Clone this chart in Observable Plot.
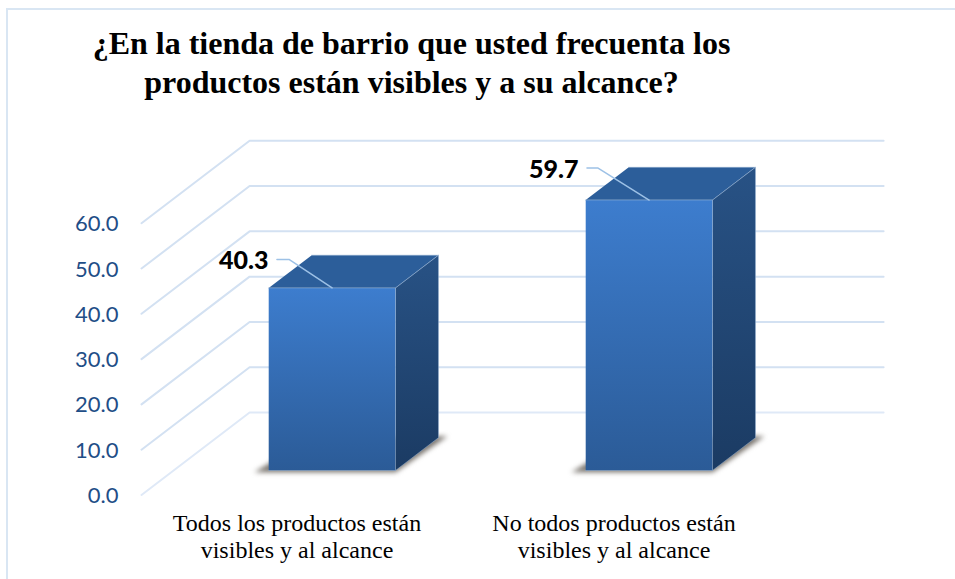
<!DOCTYPE html>
<html lang="es">
<head>
<meta charset="utf-8">
<script src="https://cdn.jsdelivr.net/npm/d3@7"></script>
<script src="https://cdn.jsdelivr.net/npm/@observablehq/plot@0.6"></script>
<style>
  html, body { margin: 0; padding: 0; background: #fff; overflow: hidden; }
  #frame { position: relative; width: 955px; height: 579px; overflow: hidden; }
  #frame::before {
    content: ""; position: absolute; left: 6px; top: 8px; width: 960px; height: 600px;
    border: 2px solid #d9e6f3; box-sizing: border-box;
  }
  h1 {
    position: absolute; left: 0; top: 24px; width: 823px; margin: 0; text-align: center;
    font: bold 32px/39px "Liberation Serif", serif; color: #000; white-space: nowrap;
  }
  #chart { position: absolute; left: 0; top: 0; }
  #chart svg { background: transparent; display: block; }
</style>
</head>
<body>
<div id="frame">
  <h1 id="title"></h1>
  <div id="chart"></div>
</div>
<script>
const titleLines = [
  "¿En la tienda de barrio que usted frecuenta los",
  "productos están visibles y a su alcance?"
];
const categories = [
  "Todos los productos están\nvisibles y al alcance",
  "No todos productos están\nvisibles y al alcance"
];
const values = [40.3, 59.7];
const yTicks = [0, 10, 20, 30, 40, 50, 60];

// Leader line shape for each value label, in data units.
const leaderRise = [6.3, 7.06];
const leaderRun = [0.136, 0.161];
const leaderStub = [0.038, 0.035];

// Oblique projection: depth 0..1 runs from the front of the floor to the back wall.
const depthX = 0.341;
const depthY = 18.2;
const project = (x, y, d) => ({x: x + d * depthX, y: y + d * depthY});

// Bars sit between these depths and are centred on their category slot.
const barFront = 0.297;
const barBack = 0.695;
const barWidth = 0.4;

const gridRows = yTicks.flatMap((v) => [
  {...project(0, v, 0), v},
  {...project(0, v, 1), v},
  {...project(2, v, 1), v}
]);

const barEdges = values.map((v, i) => ({i, v, x0: i + 0.5 - barWidth / 2, x1: i + 0.5 + barWidth / 2}));

const face = (corners) => barEdges.flatMap((b) => corners(b).map((p) => ({...project(...p), i: b.i})));
const frontFace = face((b) => [[b.x0, 0, barFront], [b.x1, 0, barFront], [b.x1, b.v, barFront], [b.x0, b.v, barFront]]);
const sideFace = face((b) => [[b.x1, 0, barFront], [b.x1, 0, barBack], [b.x1, b.v, barBack], [b.x1, b.v, barFront]]);
const topFace = face((b) => [[b.x0, b.v, barFront], [b.x1, b.v, barFront], [b.x1, b.v, barBack], [b.x0, b.v, barBack]]);
const shadow = face((b) => [
  [b.x0 - 0.045, -0.4, barFront],
  [b.x1, -0.4, barFront],
  [b.x1 + 0.018, -0.2, barBack + 0.03],
  [b.x0, 0, barBack]
]);

// Leader from each value label down to the middle of the bar's front top edge.
const leaders = barEdges.flatMap((b) => {
  const end = project(b.i + 0.5, b.v, barFront);
  const run = leaderRun[b.i], stub = leaderStub[b.i], rise = leaderRise[b.i];
  return [
    {x: end.x - run - stub, y: end.y + rise, i: b.i},
    {x: end.x - run, y: end.y + rise, i: b.i},
    {...end, i: b.i}
  ];
});
const valueLabels = barEdges.map((b) => {
  const end = project(b.i + 0.5, b.v, barFront);
  return {x: end.x - leaderRun[b.i] - leaderStub[b.i], y: end.y + leaderRise[b.i], text: b.v.toFixed(1)};
});

const gradient = (id, top, bottom) => () => {
  const defs = d3.create("svg:defs");
  const g = defs.append("linearGradient").attr("id", id)
    .attr("x1", 0).attr("y1", 0).attr("x2", 0).attr("y2", 1);
  g.append("stop").attr("offset", "0%").attr("stop-color", top);
  g.append("stop").attr("offset", "100%").attr("stop-color", bottom);
  return defs.node();
};

const edge = {stroke: "#9db8d8", strokeWidth: 0.8, strokeOpacity: 0.6};

const chart = Plot.plot({
  width: 955,
  height: 579,
  margin: 0,
  x: {domain: [0, 2], range: [141, 775], axis: null},
  y: {domain: [0, 60], range: [494.5, 222.7], axis: null},
  marks: [
    gradient("front-fill", "#3d7dce", "#2b5b97"),
    gradient("side-fill", "#285285", "#1b3b63"),
    Plot.line(gridRows, {x: "x", y: "y", z: "v", stroke: (d) => d.v === 0 ? "#dfe9f7" : "#d3e1f2", strokeWidth: 2, curve: "linear"}),
    Plot.line(shadow, {x: "x", y: "y", z: "i", fill: "#7a756f", stroke: "none", imageFilter: "blur(2.5px)"}),
    Plot.line(topFace, {x: "x", y: "y", z: "i", fill: "#2c5e9a", ...edge}),
    Plot.line(sideFace, {x: "x", y: "y", z: "i", fill: "url(#side-fill)", ...edge}),
    Plot.line(frontFace, {x: "x", y: "y", z: "i", fill: "url(#front-fill)", ...edge}),
    Plot.line(leaders, {x: "x", y: "y", z: "i", stroke: "#9dc1e6", strokeWidth: 1.5}),
    Plot.text(valueLabels, {
      x: "x", y: "y", text: "text", textAnchor: "end", dx: -8.5, dy: 2,
      fontFamily: "Lato", fontWeight: 900, fontSize: 25, fill: "#000"
    }),
    Plot.text(yTicks, {
      x: 0, y: (d) => d, text: (d) => d.toFixed(1), textAnchor: "end", dx: -23, dy: 1,
      fontFamily: "Lato", fontSize: 22, fill: "#1f4e87"
    }),
    Plot.text(categories, {
      x: (d, i) => i + 0.5, y: 0, text: (d) => d, dx: -3, dy: 17, lineAnchor: "top", lineHeight: 1.12,
      fontFamily: "Liberation Serif", fontSize: 24, fill: "#000"
    })
  ]
});

document.getElementById("title").innerHTML = titleLines.join("<br>");
document.getElementById("chart").append(chart);
</script>
</body>
</html>
